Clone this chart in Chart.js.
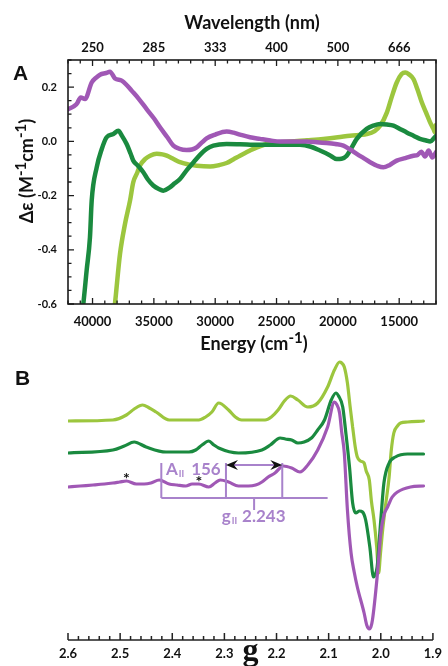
<!DOCTYPE html>
<html><head><meta charset="utf-8">
<script src="https://cdn.jsdelivr.net/npm/chart.js@4.4.1/dist/chart.umd.min.js"></script>
<style>
html,body{margin:0;padding:0;background:#fff;width:448px;height:666px;overflow:hidden;}
#wrap{position:relative;width:448px;height:666px;}
canvas{position:absolute;left:0;}
#cA{top:0;} #cB{top:355px;}
.panel{position:absolute;font-family:'Liberation Sans',Arial,sans-serif;font-weight:bold;font-size:21px;line-height:21px;color:#111;}
</style></head><body>
<div id="wrap">
<canvas id="cA" width="448" height="360"></canvas>
<canvas id="cB" width="448" height="311"></canvas>
<div class="panel" style="left:13px;top:62px">A</div>
<div class="panel" style="left:15px;top:367px">B</div>
</div>
<script>
// ---------- Panel A: CD spectra (energy in cm-1, delta-epsilon in M-1 cm-1) ----------
const energyPurple = [42000,41500,41290,40960,40610,40070,39700,39390,38900,38580,38170,37620,37200,36810,36200,35590,35000,34500,33900,33410,32900,32330,31900,31510,31100,30700,30000,29070,28500,27980,27160,26350,25500,24720,23600,22540,21700,20910,20200,19550,19000,18460,17900,17370,16800,16290,15800,15200,14500,13840,13500,13200,12900,12600,12300,12000];
const cdPurple = [0.118,0.130,0.138,0.162,0.156,0.217,0.235,0.246,0.252,0.257,0.232,0.224,0.207,0.187,0.155,0.119,0.085,0.052,0.015,-0.016,-0.028,-0.032,-0.030,-0.022,-0.005,0.011,0.025,0.036,0.032,0.025,0.015,0.009,0.003,-0.001,-0.001,-0.001,-0.003,-0.006,-0.010,-0.016,-0.030,-0.046,-0.062,-0.077,-0.090,-0.096,-0.088,-0.071,-0.062,-0.053,-0.050,-0.038,-0.056,-0.034,-0.060,-0.040];

const energyDark = [40900,40750,40480,40210,40068,39660,39260,38850,38300,37900,37600,37220,36900,36680,36300,35860,35500,35050,34600,34230,33700,33300,32870,32300,31760,31200,30700,30150,29070,27980,26500,25260,23090,22200,21460,20700,20100,19700,19280,18900,18460,17650,17100,16540,16000,15470,14900,14390,13800,13310,12800,12480,12200,12000];
const cdDark = [-0.65,-0.599,-0.476,-0.354,-0.219,-0.096,-0.030,0.015,0.027,0.039,0.020,-0.010,-0.045,-0.071,-0.090,-0.114,-0.140,-0.163,-0.176,-0.182,-0.170,-0.155,-0.139,-0.105,-0.077,-0.048,-0.028,-0.016,-0.010,-0.011,-0.013,-0.013,-0.013,-0.020,-0.034,-0.050,-0.065,-0.064,-0.053,-0.025,0.009,0.046,0.058,0.064,0.062,0.058,0.045,0.033,0.020,0.009,0.003,-0.001,0.010,0.020];

const energyLight = [38250,38170,37760,37350,36940,36680,36350,36130,35700,35310,34770,34300,33950,33400,32870,32200,31510,30420,29700,29070,28500,27980,27160,26890,25800,23900,22500,21190,20000,19010,17650,17000,16540,16000,15600,15200,14800,14510,14200,13840,13500,13160,12800,12480,12200,12080,12000];
const cdLight = [-0.63,-0.599,-0.415,-0.304,-0.218,-0.151,-0.115,-0.089,-0.065,-0.053,-0.046,-0.048,-0.053,-0.065,-0.077,-0.085,-0.090,-0.093,-0.088,-0.080,-0.066,-0.053,-0.034,-0.028,-0.010,-0.001,0.004,0.009,0.015,0.021,0.027,0.038,0.058,0.107,0.165,0.217,0.248,0.254,0.247,0.230,0.190,0.144,0.105,0.070,0.045,0.033,0.060];

const energyMajorTicks = [40000,35000,30000,25000,20000,15000];
const wavelengthLabels = ['250','285','333','400','500','666'];
const cdLabelTicks = ['-0.6','-0.4','-0.2','0.0','0.2'];

// ---------- Panel B: EPR spectra (g value, derivative intensity, arb. units) ----------
const gLight = [2.600,2.514,2.488,2.473,2.457,2.444,2.431,2.406,2.349,2.336,2.324,2.311,2.292,2.279,2.267,2.222,2.210,2.197,2.185,2.173,2.159,2.140,2.121,2.102,2.089,2.079,2.075,2.070,2.064,2.059,2.054,2.049,2.045,2.039,2.032,2.028,2.022,2.018,2.013,2.008,2.004,2.001,1.997,1.991,1.984,1.980,1.975,1.968,1.962,1.949,1.918];
const epLight = [0,1,6,12,16,13,9,1,1,4,9,18,11,4,1,1,4,11,20,25,21,14,18,34,51,59,58,54,38,15,-6,-26,-36,-40,-42,-50,-59,-80,-99,-125,-152,-135,-112,-85,-56,-30,-12,-5,-2,-1,0];

const gDark = [2.600,2.514,2.492,2.473,2.450,2.412,2.368,2.355,2.343,2.330,2.320,2.311,2.273,2.228,2.212,2.193,2.183,2.171,2.159,2.147,2.133,2.121,2.108,2.095,2.086,2.081,2.073,2.067,2.060,2.054,2.048,2.041,2.035,2.029,2.021,2.014,2.011,2.007,2.000,1.994,1.984,1.972,1.949,1.918];
const epDark = [0,3,7,11,6,1,1,3,8,12,8,5,0,3,8,15,14,13,10,11,15,23,33,53,60,57,46,20,-14,-50,-60,-58,-59,-67,-94,-124,-122,-114,-67,-30,-10,-4,-1,-1];

const gPurple = [2.600,2.577,2.552,2.530,2.514,2.501,2.488,2.469,2.454,2.441,2.425,2.406,2.391,2.374,2.362,2.349,2.330,2.318,2.308,2.292,2.273,2.254,2.240,2.228,2.216,2.203,2.187,2.171,2.155,2.140,2.121,2.102,2.089,2.085,2.079,2.075,2.070,2.064,2.057,2.051,2.045,2.032,2.027,2.022,2.019,2.016,2.007,2.000,1.994,1.987,1.978,1.968,1.943,1.918];
const epPurple = [0,1,2,3,4,5,6,3,3,4,7,3,2,1,3,3,0,4,7,5,1,1,2,5,10,14,21,19,15,22,37,60,85,83,74,55,34,-23,-66,-85,-100,-126,-138,-142,-140,-133,-90,-46,-28,-20,-10,-5,0,1];

const traceOffsetPurple = 0, traceOffsetDark = 34, traceOffsetLight = 66;
const gTickLabels = ['2.6','2.5','2.4','2.3','2.2','2.1','2.0','1.9'];

// annotation (hyperfine ladder) values, in g and intensity units
const hyperfineG = [2.421, 2.297, 2.189];
const ladderEndG = 2.102, gParallel = 2.243;
const ladderTop = 24, ladderBase = -11, gTickBottom = -23, arrowLevel = 22;
const asteriskG = [2.488, 2.349], asteriskLevel = [12, 9];

// ---------- styling ----------
const FONT = 'Lato, "Open Sans", sans-serif';
const C_LIGHT = '#9cc63e', C_DARK = '#1a8a3f', C_PURPLE = '#a058b5', C_ANNO = '#a882cb', INK = '#111';

const zip = (xs, ys, off = 0) => xs.map((x, i) => ({x, y: ys[i] + off}));

function drawRich(ctx, parts, x, y, rot, size, supSize, raise) {
  ctx.save(); ctx.translate(x, y); ctx.rotate(rot);
  ctx.fillStyle = INK; ctx.textBaseline = 'alphabetic'; ctx.textAlign = 'left';
  const fm = `bold ${size}px ${FONT}`, fs = `bold ${supSize}px ${FONT}`;
  let w = 0;
  for (const p of parts) { ctx.font = p.sup ? fs : fm; w += ctx.measureText(p.t).width; }
  let cx = -w / 2;
  for (const p of parts) { ctx.font = p.sup ? fs : fm; ctx.fillText(p.t, cx, p.sup ? -raise : 0); cx += ctx.measureText(p.t).width; }
  ctx.restore();
}
const energyTitle = [{t:'Energy (cm'},{t:'-1',sup:true},{t:')'}];
const cdTitle = [{t:'\u0394\u03b5 (M'},{t:'-1',sup:true},{t:'cm'},{t:'-1',sup:true},{t:')'}];

const frameA = {
  id: 'frameA',
  afterDraw(chart) {
    const {ctx, chartArea: a, scales} = chart;
    ctx.save();
    ctx.strokeStyle = '#1c1c1c'; ctx.lineWidth = 1.6;
    ctx.strokeRect(a.left, a.top, a.right - a.left, a.bottom - a.top);
    ctx.lineWidth = 1.3; ctx.beginPath();
    for (const t of scales.x.ticks) { const p = scales.x.getPixelForValue(t.value); const L = t.label ? 6 : 3.5; ctx.moveTo(p, a.bottom); ctx.lineTo(p, a.bottom - L); }
    for (const t of scales.x2.ticks) { const p = scales.x2.getPixelForValue(t.value); const L = t.label ? 6 : 3.5; ctx.moveTo(p, a.top); ctx.lineTo(p, a.top + L); }
    for (const t of scales.y.ticks) { const p = scales.y.getPixelForValue(t.value); const L = t.label ? 6 : 3.5; ctx.moveTo(a.left, p); ctx.lineTo(a.left + L, p); }
    ctx.stroke();
    drawRich(ctx, energyTitle, (a.left + a.right) / 2 + 2, 350, 0, 18, 15, 7);
    drawRich(ctx, cdTitle, 33, (a.top + a.bottom) / 2 - 11, -Math.PI / 2, 18, 15, 7);
    ctx.restore();
  }
};

function arrowHead(ctx, tipX, y, dir) {
  ctx.beginPath();
  ctx.moveTo(tipX, y);
  ctx.lineTo(tipX + dir * 12, y - 5);
  ctx.lineTo(tipX + dir * 8, y);
  ctx.lineTo(tipX + dir * 12, y + 5);
  ctx.closePath(); ctx.fill();
}

const annoB = {
  id: 'annoB',
  afterDraw(chart) {
    const {ctx, chartArea: a, scales: {x, y}} = chart;
    const X = v => x.getPixelForValue(v), Y = v => y.getPixelForValue(v);
    ctx.save();
    ctx.strokeStyle = '#222'; ctx.lineWidth = 1.5; ctx.beginPath();
    ctx.moveTo(a.left, a.bottom); ctx.lineTo(a.right, a.bottom);
    for (const t of x.ticks) { const p = X(t.value); const L = t.label ? 7 : 4; ctx.moveTo(p, a.bottom); ctx.lineTo(p, a.bottom - L); }
    ctx.stroke();
    // ladder
    ctx.strokeStyle = C_ANNO; ctx.lineWidth = 2; ctx.beginPath();
    for (const g of hyperfineG) { ctx.moveTo(X(g), Y(ladderTop)); ctx.lineTo(X(g), Y(ladderBase)); }
    ctx.moveTo(X(hyperfineG[0]), Y(ladderBase)); ctx.lineTo(X(ladderEndG), Y(ladderBase));
    ctx.moveTo(X(gParallel), Y(ladderBase)); ctx.lineTo(X(gParallel), Y(gTickBottom));
    ctx.moveTo(X(hyperfineG[1]) + 6, Y(arrowLevel)); ctx.lineTo(X(hyperfineG[2]) - 6, Y(arrowLevel));
    ctx.stroke();
    ctx.fillStyle = '#111';
    arrowHead(ctx, X(hyperfineG[1]), Y(arrowLevel), 1);
    arrowHead(ctx, X(hyperfineG[2]), Y(arrowLevel), -1);
    // asterisks
    ctx.font = `bold 16px ${FONT}`; ctx.textAlign = 'center'; ctx.textBaseline = 'alphabetic';
    asteriskG.forEach((g, i) => ctx.fillText('*', X(g), Y(asteriskLevel[i]) + 9));
    // labels
    ctx.fillStyle = C_ANNO; ctx.textAlign = 'left';
    const lab = (parts, gx, lvl) => {
      let cx = X(gx); const by = Y(lvl);
      for (const p of parts) {
        ctx.font = p.sub ? `bold 9px ${FONT}` : `bold 17px ${FONT}`;
        ctx.fillText(p.t, cx + (p.dx || 0), by + (p.sub ? 2 : 0));
        cx += ctx.measureText(p.t).width + (p.dx || 0);
      }
    };
    lab([{t:'A'},{t:'II',sub:true,dx:1},{t:'156',dx:7}], 2.412, 12);
    lab([{t:'g'},{t:'II',sub:true,dx:1},{t:'2.243',dx:5}], 2.305, -35);
    ctx.restore();
  }
};

const lineEls = {point: {radius: 0}, line: {tension: 0.4, cubicInterpolationMode: 'monotone', borderJoinStyle: 'round', borderCapStyle: 'round'}};
const tickFont = s => ({family: FONT, size: s, weight: 'bold'});
const noGrid = {display: false, drawTicks: false, tickLength: 0};

new Chart(document.getElementById('cA'), {
  type: 'line',
  data: {datasets: [
    {label: 'purple', data: zip(energyPurple, cdPurple), borderColor: C_PURPLE, borderWidth: 4.5, fill: false},
    {label: 'dark green', data: zip(energyDark, cdDark), borderColor: C_DARK, borderWidth: 4.5, fill: false},
    {label: 'light green', data: zip(energyLight, cdLight), borderColor: C_LIGHT, borderWidth: 4.5, fill: false}
  ]},
  options: {
    responsive: false, animation: false, devicePixelRatio: 1,
    layout: {padding: {left: 0, right: 12, top: 0, bottom: 0}},
    plugins: {legend: {display: false}, tooltip: {enabled: false}},
    elements: lineEls,
    scales: {
      x: {type: 'linear', position: 'bottom', min: 12000, max: 42000, reverse: true,
        grid: noGrid, border: {display: false},
        ticks: {stepSize: 1000, autoSkip: false, maxRotation: 0, minRotation: 0, padding: 10, color: INK, font: tickFont(13),
          callback: v => energyMajorTicks.includes(v) ? String(v) : ''},
        afterFit: s => { s.height = 56; }},
      x2: {type: 'linear', position: 'top', min: 12000, max: 42000, reverse: true,
        grid: noGrid, border: {display: false},
        ticks: {stepSize: 1000, autoSkip: false, maxRotation: 0, minRotation: 0, padding: 4, color: INK, font: tickFont(13),
          callback: v => { const i = energyMajorTicks.indexOf(v); return i >= 0 ? wavelengthLabels[i] : ''; }},
        title: {display: true, text: 'Wavelength (nm)', color: INK, font: {family: FONT, size: 18, weight: 'bold'}, padding: {top: 12, bottom: 0}},
        afterFit: s => { s.height = 60; }},
      y: {type: 'linear', min: -0.6, max: 0.3,
        grid: noGrid, border: {display: false},
        ticks: {stepSize: 0.05, autoSkip: false, padding: 11, color: INK, font: tickFont(11),
          callback: v => { let s = (Math.round(v * 100) / 100).toFixed(1); if (s === '-0.0') s = '0.0'; return (Math.round(v * 100) % 20 === 0 && cdLabelTicks.includes(s)) ? s : ''; }},
        afterFit: s => { s.width = 68; }}
    }
  },
  plugins: [frameA]
});

new Chart(document.getElementById('cB'), {
  type: 'line',
  data: {datasets: [
    {label: 'purple', data: zip(gPurple, epPurple, traceOffsetPurple), borderColor: C_PURPLE, borderWidth: 3.2, fill: false},
    {label: 'dark green', data: zip(gDark, epDark, traceOffsetDark), borderColor: C_DARK, borderWidth: 3.2, fill: false},
    {label: 'light green', data: zip(gLight, epLight, traceOffsetLight), borderColor: C_LIGHT, borderWidth: 3.2, fill: false}
  ]},
  options: {
    responsive: false, animation: false, devicePixelRatio: 1,
    layout: {padding: {left: 68, right: 12, top: 1, bottom: 0}},
    plugins: {legend: {display: false}, tooltip: {enabled: false}},
    elements: lineEls,
    scales: {
      x: {type: 'linear', min: 1.9, max: 2.6, reverse: true,
        grid: noGrid, border: {display: false},
        ticks: {stepSize: 0.02, autoSkip: false, maxRotation: 0, minRotation: 0, padding: 6, color: INK, font: tickFont(13),
          callback: v => { const r = Math.round(v * 100); const s = (r / 100).toFixed(1); return (r % 10 === 0 && gTickLabels.includes(s)) ? s : ''; }},
        title: {display: true, text: 'g', color: INK, font: {family: '"Liberation Serif","DejaVu Serif",serif', size: 32, weight: 'bold'}, padding: {top: 0, bottom: -5}},
        afterFit: s => { s.height = 26; }},
      y: {type: 'linear', display: false, min: -153, max: 131}
    }
  },
  plugins: [annoB]
});
</script>
</body></html>
